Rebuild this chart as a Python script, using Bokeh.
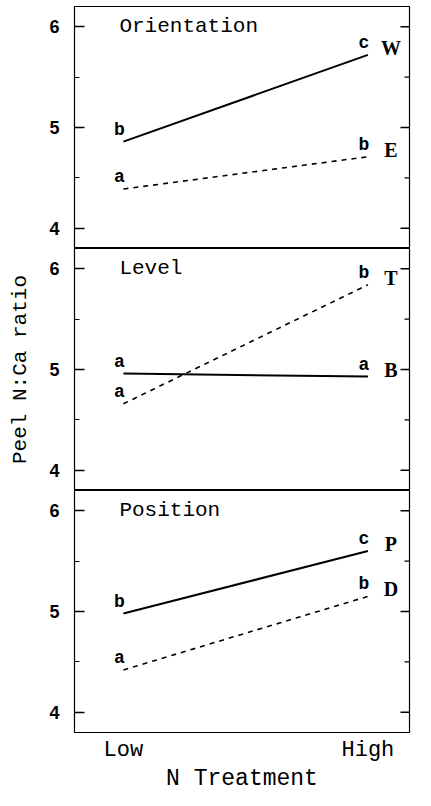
import numpy as np
from bokeh.plotting import figure
from bokeh.layouts import column
from bokeh.models import FixedTicker, Range1d, Label
from bokeh.core.properties import value
from bokeh.embed import file_html
from bokeh.resources import INLINE

# ---- data ----
treatments = ["Low", "High"]
x_pos = [0, 1]

panel_titles = ["Orientation", "Level", "Position"]
solid_names = ["W", "B", "P"]
dashed_names = ["E", "T", "D"]
solid_values = [[4.86, 5.72], [4.96, 4.93], [4.98, 5.60]]
dashed_values = [[4.39, 4.71], [4.66, 5.84], [4.42, 5.15]]
solid_letters = [["b", "c"], ["a", "a"], ["b", "c"]]
dashed_letters = [["a", "b"], ["a", "b"], ["a", "b"]]

y_ticks = [4, 5, 6]
y_minor = [4.5, 5.5]
y_label = "Peel N:Ca ratio"
x_label = "N Treatment"

MONO = "Liberation Mono"


def make_panel(i, bottom):
    p = figure(
        frame_width=335, frame_height=242,
        x_range=Range1d(-0.2, 1.17), y_range=Range1d(3.8, 6.2),
        output_backend="svg", toolbar_location=None,
        x_axis_location="below" if bottom else None,
        y_axis_location="left",
        min_border_left=74, min_border_right=6,
        min_border_top=6 if i == 0 else 0, min_border_bottom=0,
    )
    p.grid.visible = False
    p.outline_line_color = "black"
    p.outline_line_width = 1.2
    p.background_fill_color = "white"
    p.border_fill_color = "white"

    ya = p.yaxis[0]
    ya.ticker = FixedTicker(ticks=y_ticks, minor_ticks=y_minor)
    ya.axis_line_color = None
    ya.major_tick_in = 10
    ya.major_tick_out = 0
    ya.minor_tick_in = 5
    ya.minor_tick_out = 0
    ya.major_tick_line_width = 1.5
    ya.minor_tick_line_width = 1.2
    ya.major_tick_line_color = "black"
    ya.minor_tick_line_color = "black"
    ya.major_label_text_font = "Liberation Sans"
    ya.major_label_text_font_size = "18px"
    ya.major_label_text_font_style = "bold"
    ya.major_label_text_color = "black"
    ya.major_label_standoff = 15
    if i == 1:
        ya.axis_label = y_label
        ya.axis_label_text_font = MONO
        ya.axis_label_text_font_size = "21px"
        ya.axis_label_text_font_style = "normal"
        ya.axis_label_text_color = "black"
        ya.axis_label_standoff = 14

    # inward ticks along the right edge of the frame
    x_end = p.x_range.end
    p.ray(x=[x_end] * len(y_ticks), y=y_ticks, length=9, length_units="screen",
          angle=np.pi, line_color="black", line_width=1.5)
    p.ray(x=[x_end] * len(y_minor), y=y_minor, length=5, length_units="screen",
          angle=np.pi, line_color="black", line_width=1.2)

    if bottom:
        xa = p.xaxis[0]
        xa.ticker = FixedTicker(ticks=x_pos)
        xa.major_label_overrides = {x_pos[0]: treatments[0], x_pos[1]: treatments[1]}
        xa.axis_line_color = None
        xa.major_tick_in = 0
        xa.major_tick_out = 0
        xa.minor_tick_line_color = None
        xa.major_label_text_font = MONO
        xa.major_label_text_font_size = "22px"
        xa.major_label_text_color = "black"
        xa.major_label_standoff = 5
        xa.axis_label = x_label
        xa.axis_label_text_font = MONO
        xa.axis_label_text_font_size = "23px"
        xa.axis_label_text_font_style = "normal"
        xa.axis_label_text_color = "black"
        xa.axis_label_standoff = 0

    # lines
    p.line(x_pos, solid_values[i], line_color="black", line_width=2)
    p.line(x_pos, dashed_values[i], line_color="black", line_width=1.6, line_dash="5 5")

    # significance letters
    for vals, lets in ((solid_values[i], solid_letters[i]), (dashed_values[i], dashed_letters[i])):
        p.text(x=x_pos, y=vals, text=lets, text_align="center", text_baseline="alphabetic",
               x_offset=-4, y_offset=-12, text_font=value(MONO), text_font_size="18px",
               text_font_style="bold", text_color="black")

    # series names
    p.text(x=[x_pos[1], x_pos[1]], y=[solid_values[i][1], dashed_values[i][1]],
           text=[solid_names[i], dashed_names[i]], text_align="center", text_baseline="middle",
           x_offset=23, y_offset=-7, text_font=value("Liberation Serif"), text_font_size="20px",
           text_font_style="bold", text_color="black")

    # panel title
    p.add_layout(Label(x=x_pos[0], y=y_ticks[-1], text=panel_titles[i], text_baseline="middle",
                       text_align="left", x_offset=-4, text_font=MONO, text_font_size="21px",
                       text_color="black"))
    return p


panels = [make_panel(i, i == 2) for i in range(3)]
layout = column(*panels, spacing=0)
open("out.html", "w").write(file_html(layout, INLINE))
